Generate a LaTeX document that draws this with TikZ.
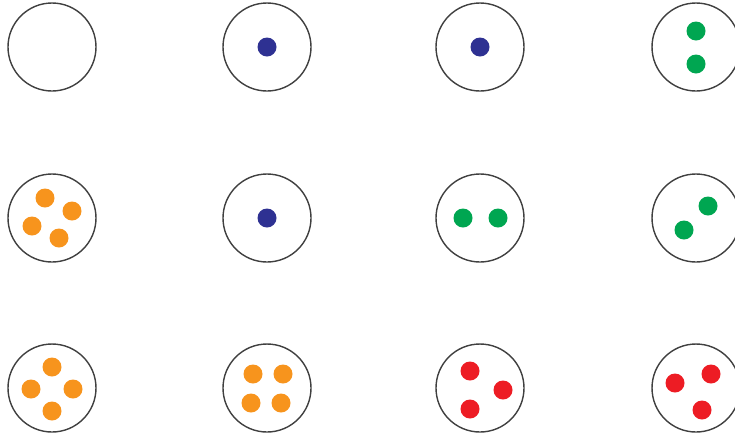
\documentclass[tikz,border=0pt]{standalone}
\usepackage{tikz}
\usepackage{xcolor}
\definecolor{dotblue}{HTML}{2E3192}
\definecolor{dotgreen}{HTML}{00A651}
\definecolor{dotorange}{HTML}{F7941D}
\definecolor{dotred}{HTML}{ED1C24}
\newcommand{\cellRing}[2]{%
    \draw[black!75, line width=1.2pt] (#1,#2) circle (44);
}
\newcommand{\cellDot}[3]{%
    \fill[#1] (#2,#3) circle (9.5);
}
\begin{document}
\begin{tikzpicture}[x=0.03cm, y=-0.03cm]
    \useasboundingbox (0,0) rectangle (735,438);
    \foreach \x in {52, 267, 480, 696} {
        \foreach \y in {47, 218, 388} {
            \cellRing{\x}{\y}
        }
    }
    % row 1
    \cellDot{dotblue}{267}{47}
    \cellDot{dotblue}{480}{47}
    \cellDot{dotgreen}{696}{31}
    \cellDot{dotgreen}{696}{64}
    % row 2
    \cellDot{dotorange}{45}{198}
    \cellDot{dotorange}{72}{211}
    \cellDot{dotorange}{32}{226}
    \cellDot{dotorange}{59}{238}
    \cellDot{dotblue}{267}{218}
    \cellDot{dotgreen}{463}{218}
    \cellDot{dotgreen}{498}{218}
    \cellDot{dotgreen}{708}{206}
    \cellDot{dotgreen}{684}{230}
    % row 3
    \cellDot{dotorange}{52}{367}
    \cellDot{dotorange}{31}{389}
    \cellDot{dotorange}{73}{389}
    \cellDot{dotorange}{52}{411}
    \cellDot{dotorange}{253}{374}
    \cellDot{dotorange}{283}{374}
    \cellDot{dotorange}{251}{403}
    \cellDot{dotorange}{281}{403}
    \cellDot{dotred}{470}{371}
    \cellDot{dotred}{503}{390}
    \cellDot{dotred}{470}{409}
    \cellDot{dotred}{675}{383}
    \cellDot{dotred}{711}{374}
    \cellDot{dotred}{702}{410}
\end{tikzpicture}
\end{document}
